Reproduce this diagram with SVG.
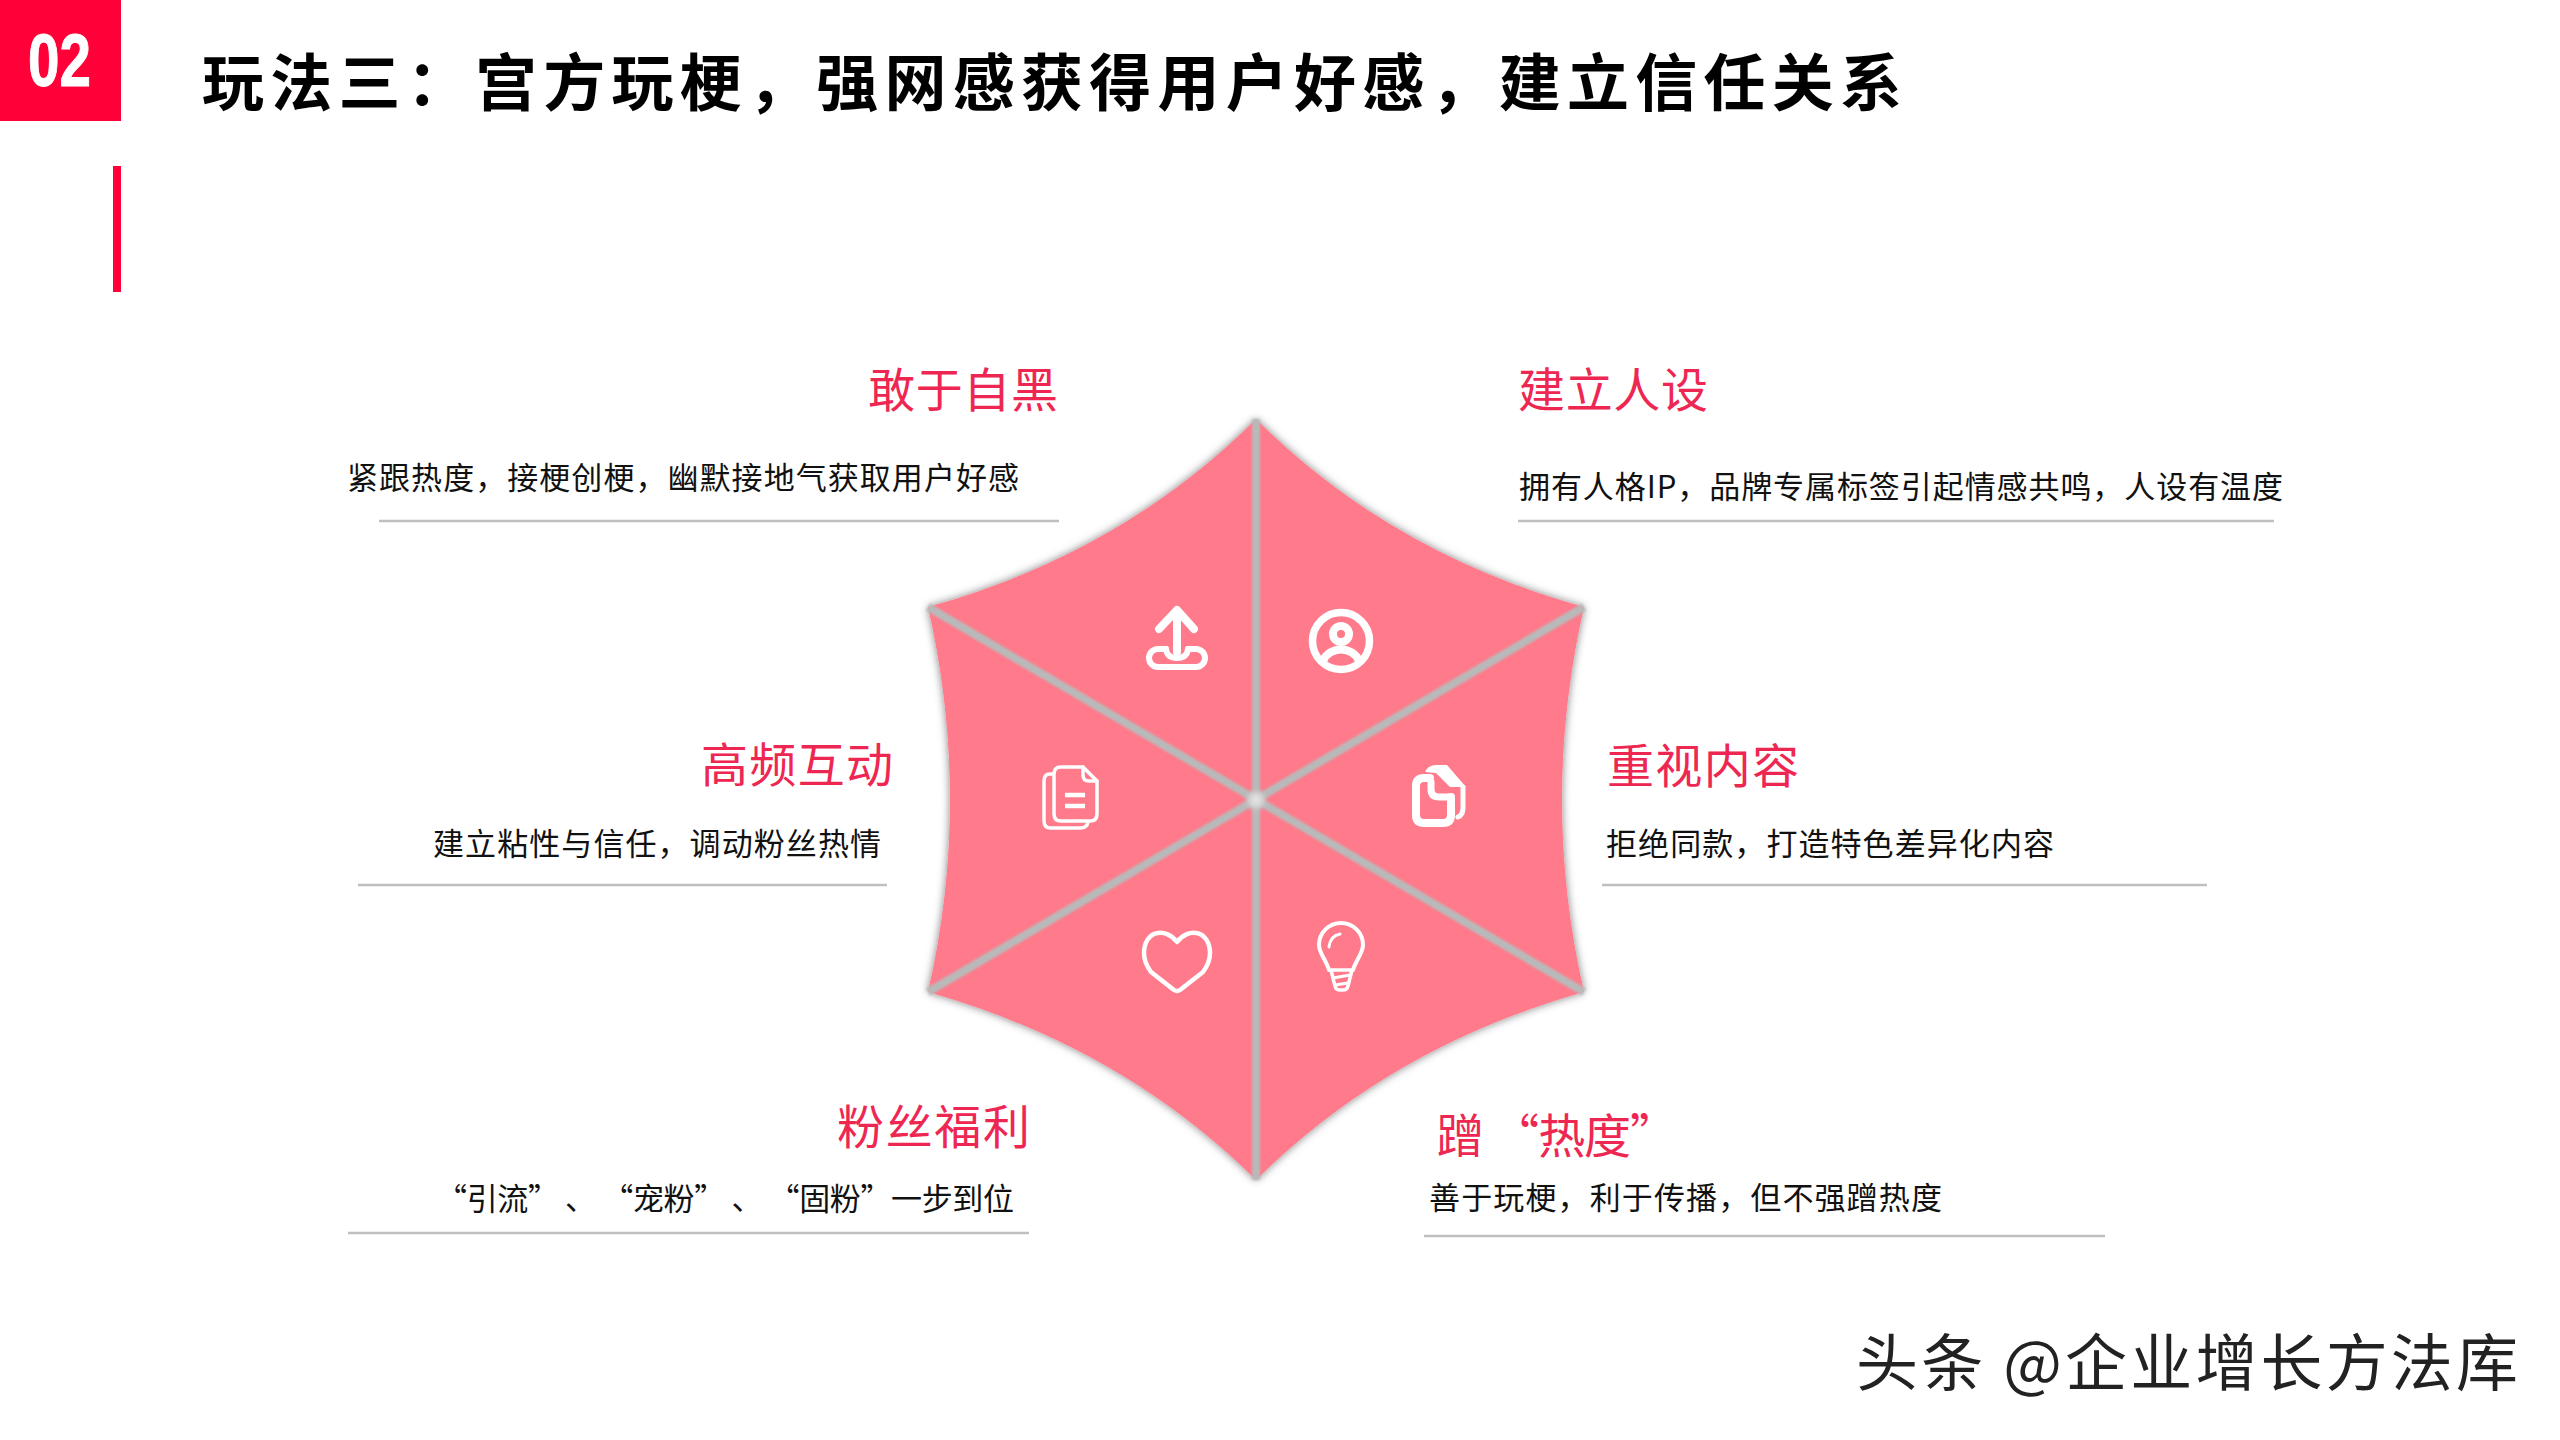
<svg xmlns="http://www.w3.org/2000/svg" width="2560" height="1440" viewBox="0 0 2560 1440">
<style>
text{font-family:"Noto Sans CJK SC","Liberation Sans",sans-serif}
.h{font-size:47px;fill:#ee2752}
.d{font-size:31px;fill:#111}
.r{stroke:#bfbfbf;stroke-width:2.5;fill:none}
.seg{fill:#ff7a8a}
.sp{stroke:#b9b9b9;stroke-width:8;fill:none}
.i{fill:none;stroke:#fff;stroke-linecap:round;stroke-linejoin:round}
.f{fill:#fff;stroke:none}
</style>
<defs>
<filter id="sh" x="-10%" y="-10%" width="120%" height="120%"><feDropShadow dx="0" dy="0" stdDeviation="4" flood-color="#000" flood-opacity=".5"/></filter>
<filter id="b" x="-10%" y="-10%" width="120%" height="120%"><feGaussianBlur stdDeviation=".8"/></filter>
<radialGradient id="glow"><stop offset="0" stop-color="#e6e6e6"/><stop offset=".5" stop-color="#d2d2d2"/><stop offset="1" stop-color="#b9b9b9" stop-opacity="0"/></radialGradient>
</defs>
<rect width="2560" height="1440" fill="#fff"/>
<g id="header">
<rect x="0" y="0" width="121" height="121" fill="#ff0039"/>
<text x="28" y="86" font-size="75" font-weight="700" fill="#fff" stroke="#fff" stroke-width="1" textLength="63" lengthAdjust="spacingAndGlyphs" style="font-family:'Liberation Sans Narrow','Liberation Sans',sans-serif">02</text>
<rect x="113" y="166" width="8" height="126" fill="#ff0039"/>
<text x="202" y="106" font-size="62" font-weight="700" fill="#000" textLength="1700" lengthAdjust="spacing">玩法三：宫方玩梗，强网感获得用户好感，建立信任关系</text>
</g>
<g id="star" filter="url(#sh)">
<path class="seg" d="M1256,800V419Q1122,553 928,607Z"/>
<path class="seg" d="M1256,800V419Q1390,553 1584,607Z"/>
<path class="seg" d="M1256,800L1584,607Q1540,800 1584,992Z"/>
<path class="seg" d="M1256,800L1584,992Q1390,1047 1256,1180Z"/>
<path class="seg" d="M1256,800V1180Q1122,1047 928,992Z"/>
<path class="seg" d="M1256,800L928,992Q972,800 928,607Z"/>
</g>
<g id="connectors" filter="url(#b)">
<path class="sp" d="M1256,419V1180"/>
<path class="sp" d="M928,607L1584,992"/>
<path class="sp" d="M1584,607L928,992"/>
<circle cx="1256" cy="800" r="13" fill="url(#glow)"/>
</g>
<g id="node-upload">
<path class="i" stroke-width="8" d="M1159,629L1177,610L1194,629"/>
<path class="i" stroke-width="8" d="M1177,613V652"/>
<path class="i" stroke-width="6" d="M1166,649H1158A9,9 0 0 0 1158,667H1196A9,9 0 0 0 1196,649H1188"/>
<path class="i" stroke-width="6" d="M1166,649Q1167,658 1177,658Q1187,658 1188,649"/>
<text class="h" x="868" y="407" textLength="190">敢于自黑</text>
<text class="d" x="347" y="489" textLength="672">紧跟热度，接梗创梗，幽默接地气获取用户好感</text>
<path class="r" d="M379,521H1059"/>
</g>
<g id="node-person">
<circle class="i" cx="1341" cy="641" r="28.5" stroke-width="7.5"/>
<circle class="i" cx="1341" cy="634" r="8" stroke-width="8"/>
<path class="i" stroke-width="8" d="M1323,661A19,17 0 0 1 1359,661"/>
<text class="h" x="1518" y="407" textLength="190">建立人设</text>
<text class="d" x="1519" y="498" textLength="764">拥有人格IP，品牌专属标签引起情感共鸣，人设有温度</text>
<path class="r" d="M1518,521H2274"/>
</g>
<g id="node-copy">
<path class="i" stroke-width="8" d="M1430,778H1424Q1416,778 1416,786V815Q1416,823 1424,823H1443Q1451,823 1451,815V797"/>
<path class="i" stroke-width="7" d="M1431,782V789Q1431,797 1439,797H1451"/>
<path class="f" d="M1425,772Q1428,765 1436,765H1447L1466,787H1450L1436,773Z"/>
<path class="i" stroke-width="5" d="M1463,787V808Q1463,815 1458,817"/>
<text class="h" x="1607" y="783" textLength="192">重视内容</text>
<text class="d" x="1606" y="855" textLength="448">拒绝同款，打造特色差异化内容</text>
<path class="r" d="M1602,885H2207"/>
</g>
<g id="node-bulb">
<path class="i" stroke-width="4" d="M1329,970C1326,960 1319,953 1319,945A22,22 0 0 1 1363,945C1363,953 1356,960 1353,970"/>
<path class="i" stroke-width="3.5" d="M1331,970H1352L1348,986Q1347,990 1343,990H1340Q1336,990 1335,986Z"/>
<path class="i" stroke-width="3" d="M1333,978L1350,975M1335,985L1348,983"/>
<path class="i" stroke-width="3" d="M1329,947Q1330,936 1340,934"/>
<text class="h" x="1437" y="1153" textLength="240">蹭 “热度”</text>
<text class="d" x="1429" y="1209" textLength="513">善于玩梗，利于传播，但不强蹭热度</text>
<path class="r" d="M1424,1236H2105"/>
</g>
<g id="node-heart">
<path class="i" stroke-width="4.5" d="M1177,942C1171,934 1163,932 1158,933C1149,934 1144,943 1144,953C1144,961 1148,968 1151,972L1174,990Q1177,992 1180,990L1203,972C1206,968 1210,961 1210,953C1210,943 1205,934 1196,933C1191,932 1183,934 1177,942Z"/>
<text class="h" x="837" y="1144" textLength="193">粉丝福利</text>
<text class="d" x="436" y="1210" textLength="578">“引流” 、 “宠粉” 、 “固粉”一步到位</text>
<path class="r" d="M348,1233H1029"/>
</g>
<g id="node-doc">
<path class="i" stroke-width="3.5" d="M1083,767H1061Q1054,767 1054,774V814Q1054,821 1061,821H1090Q1097,821 1097,814V781Z"/>
<path class="i" stroke-width="3.5" d="M1083,767V775Q1083,781 1089,781H1097"/>
<path class="i" stroke-width="3.5" d="M1053,774H1050Q1044,774 1044,781V821Q1044,828 1051,828H1080Q1087,828 1088,822"/>
<path class="i" stroke-width="4.5" style="stroke-linecap:butt" d="M1065,795H1085M1065,806H1085"/>
<text class="h" x="701" y="782" textLength="192">高频互动</text>
<text class="d" x="433" y="855" textLength="448">建立粘性与信任，调动粉丝热情</text>
<path class="r" d="M358,885H887"/>
</g>
<text id="watermark" x="1856" y="1386" font-size="62" fill="#222" textLength="662" lengthAdjust="spacing">头条 @企业增长方法库</text>
</svg>
